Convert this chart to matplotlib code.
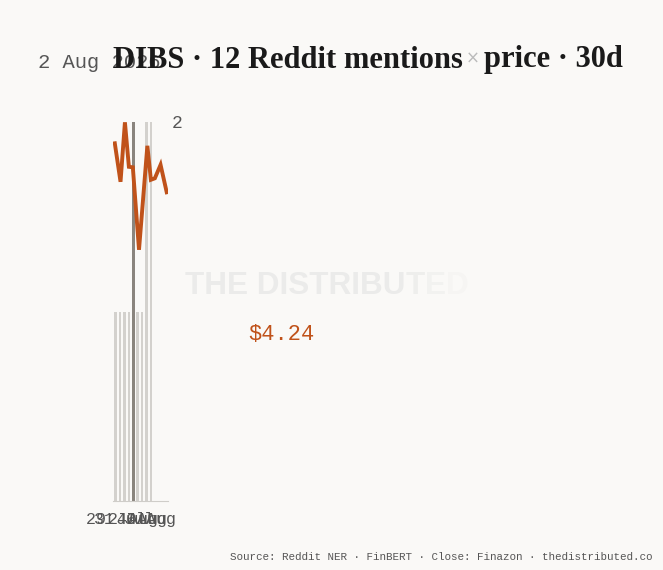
import matplotlib
matplotlib.use("Agg")
import matplotlib.pyplot as plt

# mentions per day (day index 0 = 29 Jul)
mention_days = [0, 1, 2, 3, 4, 5, 6, 7, 8]
mentions = [1, 1, 1, 1, 2, 1, 1, 2, 2]
highlight_day = 4

# close prices
price_days = [-0.2, 1.1, 2.1, 3.0, 3.9, 5.3, 7.2, 8.0, 8.9, 10.2, 11.6]
prices = [4.338, 4.261, 4.380, 4.291, 4.290, 4.125, 4.333, 4.265, 4.268, 4.295, 4.240]

tick_days = [0, 2, 4, 6, 8]
tick_labels = ["29 Jul", "31 Jul", "2 Aug", "4 Aug", "6 Aug"]

BG = "#faf9f7"
ORANGE = "#c0521a"
MONO = "Liberation Mono"

fig = plt.figure(figsize=(6.63, 5.7), dpi=100, facecolor=BG)
W, H = 663, 570

ax = fig.add_axes([113 / W, (H - 501) / H, (168 - 113) / W, (501 - 122) / H])
ax.set_facecolor("none")
colors = ["#8a857e" if d == highlight_day else "#d3d1cd" for d in mention_days]
ax.bar(mention_days, mentions, width=0.6, color=colors, zorder=2)
ax.set_xlim(-0.61, 11.89)
ax.set_ylim(0, 2)

ax2 = ax.twinx()
ax2.plot(price_days, prices, color=ORANGE, lw=2.8, solid_joinstyle="miter", zorder=3)
ax2.set_ylim(3.6226, 4.3806)
ax2.set_axis_off()

for s in ["top", "left", "right"]:
    ax.spines[s].set_visible(False)
ax.spines["bottom"].set_color("#cfcdc9")
ax.set_xticks(tick_days)
ax.set_xticklabels(tick_labels, family=MONO, fontsize=12, color="#555555")
ax.tick_params(axis="x", length=0, pad=8)
ax.yaxis.tick_right()
ax.set_yticks([2])
ax.set_yticklabels(["2"], family=MONO, fontsize=13, color="#555555")
ax.tick_params(axis="y", length=0, pad=3, labelright=True, labelleft=False)

# date label and title
fig.text(38 / W, 1 - 63 / H, "2 Aug 2026", family=MONO, fontsize=14.8,
         color="#555555", va="center")
tkw = dict(family="Liberation Serif", fontsize=22, fontweight="bold",
           color="#1a1a1a", va="center")
fig.text(113 / W, 1 - 60 / H, "DIBS · 12 Reddit mentions", **tkw)
fig.text(473 / W, 1 - 59 / H, "×", family="DejaVu Sans", fontsize=12,
         color="#bbbbbb", va="center", ha="center")
fig.text(484 / W, 1 - 60 / H, "price · 30d", **tkw)

# watermark, fading at the end
wkw = dict(family="Liberation Sans", fontsize=22.7, fontweight="bold", va="center")
r = fig.canvas.get_renderer()
t = fig.text(185 / W, 1 - 286 / H, "THE DISTRIBU", color="#ebebea", **wkw)
x = t.get_window_extent(r).x1
for ch, c in zip("TED", ["#eeeeec", "#f2f2f0", "#f6f5f3"]):
    t = fig.text(x / W, 1 - 286 / H, ch, color=c, **wkw)
    x = t.get_window_extent(r).x1

fig.text(248 / W, 1 - 334 / H, "$4.24", family=MONO, fontsize=15.8,
         color=ORANGE, va="center")

fig.text(653 / W, 1 - 557 / H,
         "Source: Reddit NER · FinBERT · Close: Finazon · thedistributed.co",
         family=MONO, fontsize=7.85, color="#555555", ha="right", va="center")

fig.savefig("out.png", dpi=100, facecolor=BG)
